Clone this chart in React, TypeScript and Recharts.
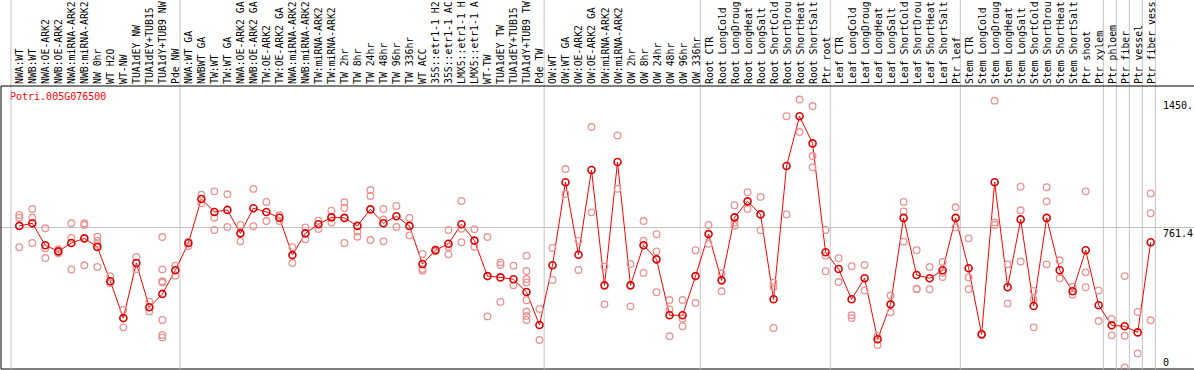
import React from 'react'
import { ComposedChart, Line, Scatter, XAxis, YAxis, ReferenceLine } from 'recharts'

// sample names as printed (cut to 14 characters)
const categories = [
  'NWA:WT', 'NWB:WT', 'NWA:OE-ARK2', 'NWB:OE-ARK2', 'NWA:miRNA-ARK2', 'NWB:miRNA-ARK2',
  'NW 0hr', 'WT H2O', 'WT-NW', 'TUA1dEY NW', 'TUA1dEY+TUB15', 'TUA1dY+TUB9 NW', 'Pde NW',
  'NWA:WT GA', 'NWBWT GA', 'TW:WT', 'TW:WT GA', 'NWA:OE-ARK2 GA', 'NWB:OE-ARK2 GA',
  'TW:OE-ARK2', 'TW:OE-ARK2 GA', 'NWA:miRNA-ARK2', 'NWB:miRNA-ARK2', 'TW:miRNA-ARK2',
  'TW:miRNA-ARK2', 'TW 2hr', 'TW 8hr', 'TW 24hr', 'TW 48hr', 'TW 96hr', 'TW 336hr',
  'WT ACC', '35S::etr1-1 H2', '35S::etr1-1 AC', 'LMX5::etr1-1 H', 'LMX5::etr1-1 A',
  'WT-TW', 'TUA1dEY TW', 'TUA1dEY+TUB15', 'TUA1dY+TUB9 TW', 'Pde TW',
  'OW:WT', 'OW:WT GA', 'OW:OE-ARK2', 'OW:OE-ARK2 GA', 'OW:miRNA-ARK2', 'OW:miRNA-ARK2',
  'OW 2hr', 'OW 8hr', 'OW 24hr', 'OW 48hr', 'OW 96hr', 'OW 336hr',
  'Root CTR', 'Root LongCold', 'Root LongDroug', 'Root LongHeat', 'Root LongSalt',
  'Root ShortCold', 'Root ShortDrou', 'Root ShortHeat', 'Root ShortSalt', 'Ptr root',
  'Leaf CTR', 'Leaf LongCold', 'Leaf LongDroug', 'Leaf LongHeat', 'Leaf LongSalt',
  'Leaf ShortCold', 'Leaf ShortDrou', 'Leaf ShortHeat', 'Leaf ShortSalt', 'Ptr leaf',
  'Stem CTR', 'Stem LongCold', 'Stem LongDroug', 'Stem LongHeat', 'Stem LongSalt',
  'Stem ShortCold', 'Stem ShortDrou', 'Stem ShortHeat', 'Stem ShortSalt', 'Ptr shoot',
  'Ptr xylem', 'Ptr phloem', 'Ptr fiber', 'Ptr vessel', 'Ptr fiber vess',
]

// mean expression per sample
const means = [
  770, 784, 666, 633, 678, 703, 657, 472, 274, 570,
  332, 404, 531, 678, 915, 845, 856, 730, 865, 845,
  814, 613, 730, 779, 816, 813, 770, 859, 784, 822,
  770, 565, 639, 674, 779, 691, 500, 493, 483, 414,
  237, 558, 1005, 615, 1071, 450, 1114, 450, 666, 590,
  289, 289, 500, 726, 477, 816, 902, 832, 375, 1092,
  1360, 1214, 628, 538, 375, 488, 160, 348, 813, 506,
  488, 531, 813, 542, 187, 1005, 440, 805, 339, 813,
  531, 418, 639, 343, 235, 230, 197, 682,
]

// individual replicates per sample
const replicates = [
  [829, 814, 655], [861, 814, 678], [757, 649, 597], [644, 630, 622], [784, 705, 536],
  [784, 775, 558], [712, 691, 673, 549], [500, 461], [318, 224], [603, 538],
  [362, 309], [710, 536, 472, 465, 264, 183, 170], [556, 502], [685, 662], [938, 892],
  [956, 814, 748], [940, 764], [775, 687], [969, 768], [899, 796],
  [827, 796], [655, 570], [762, 698], [798, 753], [852, 788],
  [897, 866, 678], [739, 712], [963, 931, 694], [861, 805, 687], [877, 764],
  [813, 719], [619, 538, 529], [644, 633], [748, 658, 617], [904, 755, 682],
  [752, 658], [710, 283], [574, 560, 361], [556, 450], [610, 527, 484, 466, 370, 309, 285, 264],
  [323, 156], [651, 479], [1076, 942], [691, 533], [1302, 843],
  [551, 348], [1257, 970], [565, 337], [796, 691, 517], [725, 633, 413],
  [371, 321, 176], [371, 271, 230], [639, 355], [775, 674], [515, 418],
  [881, 788, 771], [951, 861], [926, 746], [465, 440, 221], [1360, 832],
  [1450, 1275], [1415, 1146, 1085], [748, 610, 526], [596, 468], [553, 289, 274],
  [560, 423], [178, 129], [396, 305], [899, 848, 685], [639, 432, 429],
  [549, 429], [576, 518, 495], [870, 762], [703, 493, 429], [187, 183],
  [1444, 788, 775], [563, 353], [981, 854, 579], [420, 375, 224], [978, 902, 563],
  [585, 488], [443, 400], [956, 520, 440], [423, 258], [269, 181],
  [500, 179, 9], [307, 84], [945, 838, 262],
]

// last sample index of each group, separators drawn after them
const groupEnds = [-1, 12, 40, 52, 62, 72, 83, 84, 85, 86, 87]

const yTicks = [0, 761.4, 1450]
const yTickLabels = ['0', '761.4', '1450.']
const yMax = 1522.8

const lineData = categories.map((name, i) => ({ idx: i, name, mean: means[i] }))
const repData = replicates.flatMap((vals, i) => vals.map((v) => ({ idx: i, value: v })))

const FONT = '"DejaVu Sans Mono", monospace'

const CategoryTick = (props: any) => {
  const { x, payload } = props
  return (
    <text
      transform={`translate(${x + 4},84) rotate(-90)`}
      fontFamily={FONT}
      fontSize={9.8}
      fill="#000"
      textAnchor="start"
    >
      {categories[payload.value]}
    </text>
  )
}

const ValueTick = (props: any) => {
  const { y, payload } = props
  const label = yTickLabels[yTicks.indexOf(payload.value)]
  return (
    <text x={1163} y={payload.value === 0 ? y - 3.5 : y + 9} fontFamily={FONT} fontSize={10} fill="#000">
      {label}
    </text>
  )
}

const RepDot = (props: any) => (
  <circle cx={props.cx} cy={props.cy} r={3.3} fill="none" stroke="#e89494" strokeWidth={1.3} />
)

const Separator = (props: any) => (
  <line x1={props.x1} x2={props.x2} y1={0} y2={369} stroke="#c4c4c4" strokeWidth={1} />
)

export default function App() {
  return (
    <div style={{ position: 'fixed', left: 0, top: 0, width: 1194, height: 370, background: '#fff' }}>
      <ComposedChart width={1194} height={370} margin={{ top: 0, right: 0, bottom: 1, left: 1 }}>
        <XAxis
          type="number"
          dataKey="idx"
          orientation="top"
          height={86}
          domain={[-1.407, 90.33]}
          allowDataOverflow
          ticks={categories.map((_, i) => i)}
          interval={0}
          tickLine={false}
          axisLine={{ stroke: '#000' }}
          tick={<CategoryTick />}
        />
        <YAxis
          type="number"
          domain={[0, yMax]}
          allowDataOverflow
          ticks={yTicks}
          interval={0}
          mirror
          tickLine={false}
          axisLine={{ stroke: '#000' }}
          tick={<ValueTick />}
        />
        <ReferenceLine y={761.4} stroke="#c4c4c4" />
        <ReferenceLine y={0} stroke="#000" />
        {groupEnds.map((e) => (
          <ReferenceLine key={e} x={e + 0.36} stroke="#c4c4c4" shape={Separator} />
        ))}
        <Scatter data={repData} dataKey="value" shape={RepDot} isAnimationActive={false} />
        <Line
          data={lineData}
          dataKey="mean"
          type="linear"
          stroke="#ff0000"
          strokeWidth={1}
          dot={{ r: 3.5, stroke: '#e00000', strokeWidth: 1.6, fill: 'none' }}
          isAnimationActive={false}
        />
        <text x={10} y={100} fill="#ff0000" fontFamily={FONT} fontSize={10}>
          Potri.005G076500
        </text>
      </ComposedChart>
    </div>
  )
}
